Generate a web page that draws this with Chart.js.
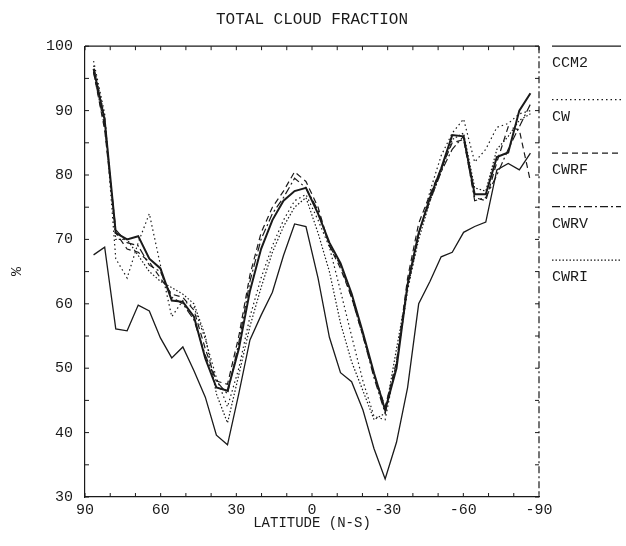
<!DOCTYPE html>
<html>
<head>
<meta charset="utf-8">
<script src="https://cdn.jsdelivr.net/npm/chart.js@4.4.1/dist/chart.umd.min.js"></script>
<style>
  html, body { margin: 0; padding: 0; background: #fff; }
  canvas { display: block; }
</style>
</head>
<body>
<canvas id="cloudChart" width="626" height="546"></canvas>
<script>
// R15 gaussian latitudes, north to south
const latitudes = [86.6, 82.2, 77.8, 73.3, 68.9, 64.5, 60.1, 55.6, 51.2, 46.8,
  42.3, 37.9, 33.5, 29.0, 24.6, 20.2, 15.7, 11.3, 6.9, 2.4,
  -2.4, -6.9, -11.3, -15.7, -20.2, -24.6, -29.0, -33.5, -37.9, -42.3,
  -46.8, -51.2, -55.6, -60.1, -64.5, -68.9, -73.3, -77.8, -82.2, -86.6];

const ccm2 = [96.5, 88.5, 71, 70, 70.5, 67, 65.5, 60.5, 60.3, 58,
  51.5, 47, 46.5, 53, 62, 68.5, 73, 76, 77.5, 78,
  74, 69.5, 66.3, 61.6, 55.5, 49.2, 43.5, 50, 63, 71,
  76.5, 81, 86.2, 86, 77, 77, 82.8, 83.5, 90, 92.7];

const cw = [97.7, 89.5, 67, 64, 69.5, 74, 66, 58, 60.5, 59.5,
  54.5, 48.5, 44, 50, 58, 64, 69, 73, 76, 77,
  73, 68.8, 62, 55, 48, 42.5, 42, 51, 62, 70.5,
  77.5, 83, 86.5, 88.7, 82, 84, 87.4, 88, 89.5, 90];

const cwrf = [96, 87, 71, 68.5, 68, 66.5, 64, 61.5, 61, 59,
  53, 48, 47.5, 55, 64.5, 71, 75, 77.5, 80.5, 79,
  75, 69, 65.5, 61, 55, 49, 44, 51, 64, 72.5,
  77, 81, 85, 85.5, 76.5, 76, 82, 87.5, 87, 79];

const cwrv = [96, 87.5, 71.5, 69.5, 69, 66, 65, 61, 60, 57.5,
  52, 48, 46, 54, 63.5, 70, 74, 76.5, 79.5, 78,
  74.5, 69, 66, 61, 55, 48.5, 43, 50.5, 63, 71,
  76, 80.5, 84, 86, 76, 76.5, 80, 84, 87.5, 91];

const cwri = [97, 89, 70, 70, 67.5, 65, 63.5, 62.5, 61.5, 60,
  55, 46, 41.5, 49, 56.5, 62.5, 68, 72, 75, 76.5,
  71, 65, 57, 51, 46.5, 42, 43, 53, 62.5, 70,
  76, 80.5, 85.5, 86.5, 78, 77.5, 84, 86, 88.5, 89.5];

// lower solid curve (observed), not in the legend
const observed = [67.6, 68.8, 56.1, 55.8, 59.8, 58.9, 54.7, 51.6, 53.3, 49.6,
  45.5, 39.6, 38.1, 46.1, 54.4, 58.2, 61.8, 67.5, 72.4, 72,
  64, 54.8, 49.3, 47.9, 43.5, 37.5, 32.8, 38.5, 47, 60,
  63.5, 67.3, 68, 71.1, 72, 72.7, 80.8, 81.8, 80.8, 83.4];

const xTicks = [90, 60, 30, 0, -30, -60, -90];
const yTicks = [30, 40, 50, 60, 70, 80, 90, 100];

const INK = '#1a1a1a';
const FONT = "'Liberation Mono', 'DejaVu Sans Mono', monospace";

function points(values) {
  return latitudes.map((lat, i) => ({ x: lat, y: values[i] }));
}

function series(label, values, width, dash) {
  return {
    label,
    data: points(values),
    borderColor: INK,
    borderWidth: width,
    borderDash: dash,
    pointRadius: 0,
    fill: false,
    tension: 0,
  };
}

const datasets = [
  series('CCM2', ccm2, 2, []),
  series('CW', cw, 1.2, [1.5, 3]),
  series('CWRF', cwrf, 1.2, [6, 4]),
  series('CWRV', cwrv, 1.2, [8, 3, 2, 3]),
  series('CWRI', cwri, 1.2, [1.5, 2]),
  series('', observed, 1.3, []),
];

// frame: solid top, dash-dot right, small inward ticks
const framePlugin = {
  id: 'frame',
  afterDatasetsDraw(chart) {
    const { ctx, chartArea: a, scales } = chart;
    ctx.save();
    ctx.strokeStyle = INK;
    ctx.lineWidth = 1.2;
    ctx.beginPath();
    ctx.moveTo(a.left, a.top);
    ctx.lineTo(a.right, a.top);
    ctx.stroke();

    ctx.setLineDash([7, 3, 2, 3]);
    ctx.beginPath();
    ctx.moveTo(a.right, a.top);
    ctx.lineTo(a.right, a.bottom);
    ctx.stroke();
    ctx.setLineDash([]);

    ctx.lineWidth = 1;
    for (let v = -90; v <= 90; v += 10) {
      const x = scales.x.getPixelForValue(v);
      ctx.beginPath();
      ctx.moveTo(x, a.bottom); ctx.lineTo(x, a.bottom - 4);
      ctx.moveTo(x, a.top); ctx.lineTo(x, a.top + 4);
      ctx.stroke();
    }
    for (let v = 30; v <= 100; v += 5) {
      const y = scales.y.getPixelForValue(v);
      ctx.beginPath();
      ctx.moveTo(a.left, y); ctx.lineTo(a.left + 4, y);
      ctx.moveTo(a.right, y); ctx.lineTo(a.right - 4, y);
      ctx.stroke();
    }
    ctx.restore();
  },
};

// legend on the right: line sample with the name under it
const sideLegend = {
  id: 'sideLegend',
  afterDraw(chart) {
    const { ctx, chartArea: a } = chart;
    ctx.save();
    ctx.font = '15px ' + FONT;
    ctx.fillStyle = INK;
    ctx.textBaseline = 'middle';
    chart.data.datasets.forEach((ds, i) => {
      if (!ds.label) return;
      const y = a.top + i * 53.5;
      ctx.strokeStyle = INK;
      ctx.lineWidth = 1.2;
      ctx.setLineDash(ds.borderDash);
      ctx.beginPath();
      ctx.moveTo(a.right + 13, y);
      ctx.lineTo(a.right + 82, y);
      ctx.stroke();
      ctx.setLineDash([]);
      ctx.fillText(ds.label, a.right + 13, y + 17);
    });
    ctx.restore();
  },
};

new Chart(document.getElementById('cloudChart'), {
  type: 'line',
  data: { datasets },
  plugins: [framePlugin, sideLegend],
  options: {
    responsive: false,
    animation: false,
    devicePixelRatio: 1,
    layout: { padding: { top: 0, right: 87, bottom: 8, left: 8 } },
    plugins: {
      legend: { display: false },
      tooltip: { enabled: false },
      title: {
        display: true,
        fullSize: false,
        text: 'TOTAL CLOUD FRACTION',
        color: INK,
        font: { family: FONT, size: 16, weight: 'normal' },
        padding: { top: 10, bottom: 17 },
      },
    },
    scales: {
      x: {
        type: 'linear',
        min: -90,
        max: 90,
        reverse: true,
        afterFit: (scale) => { scale.height = 41; },
        afterBuildTicks: (scale) => { scale.ticks = xTicks.map((v) => ({ value: v })); },
        grid: { display: false, drawTicks: false },
        border: { display: true, color: INK, width: 1.2 },
        ticks: { color: INK, font: { family: FONT, size: 15 }, padding: 4, maxRotation: 0 },
        title: {
          display: true,
          text: 'LATITUDE (N-S)',
          color: INK,
          font: { family: FONT, size: 14 },
          padding: { top: 0, bottom: 6 },
        },
      },
      y: {
        min: 30,
        max: 100,
        afterFit: (scale) => { scale.width = 77; },
        afterBuildTicks: (scale) => { scale.ticks = yTicks.map((v) => ({ value: v })); },
        grid: { display: false, drawTicks: false },
        border: { display: true, color: INK, width: 1.2 },
        ticks: { color: INK, font: { family: FONT, size: 15 }, padding: 12 },
        title: {
          display: true,
          text: '%',
          color: INK,
          font: { family: FONT, size: 15 },
          padding: { top: 0, bottom: 4 },
        },
      },
    },
  },
});
</script>
</body>
</html>
